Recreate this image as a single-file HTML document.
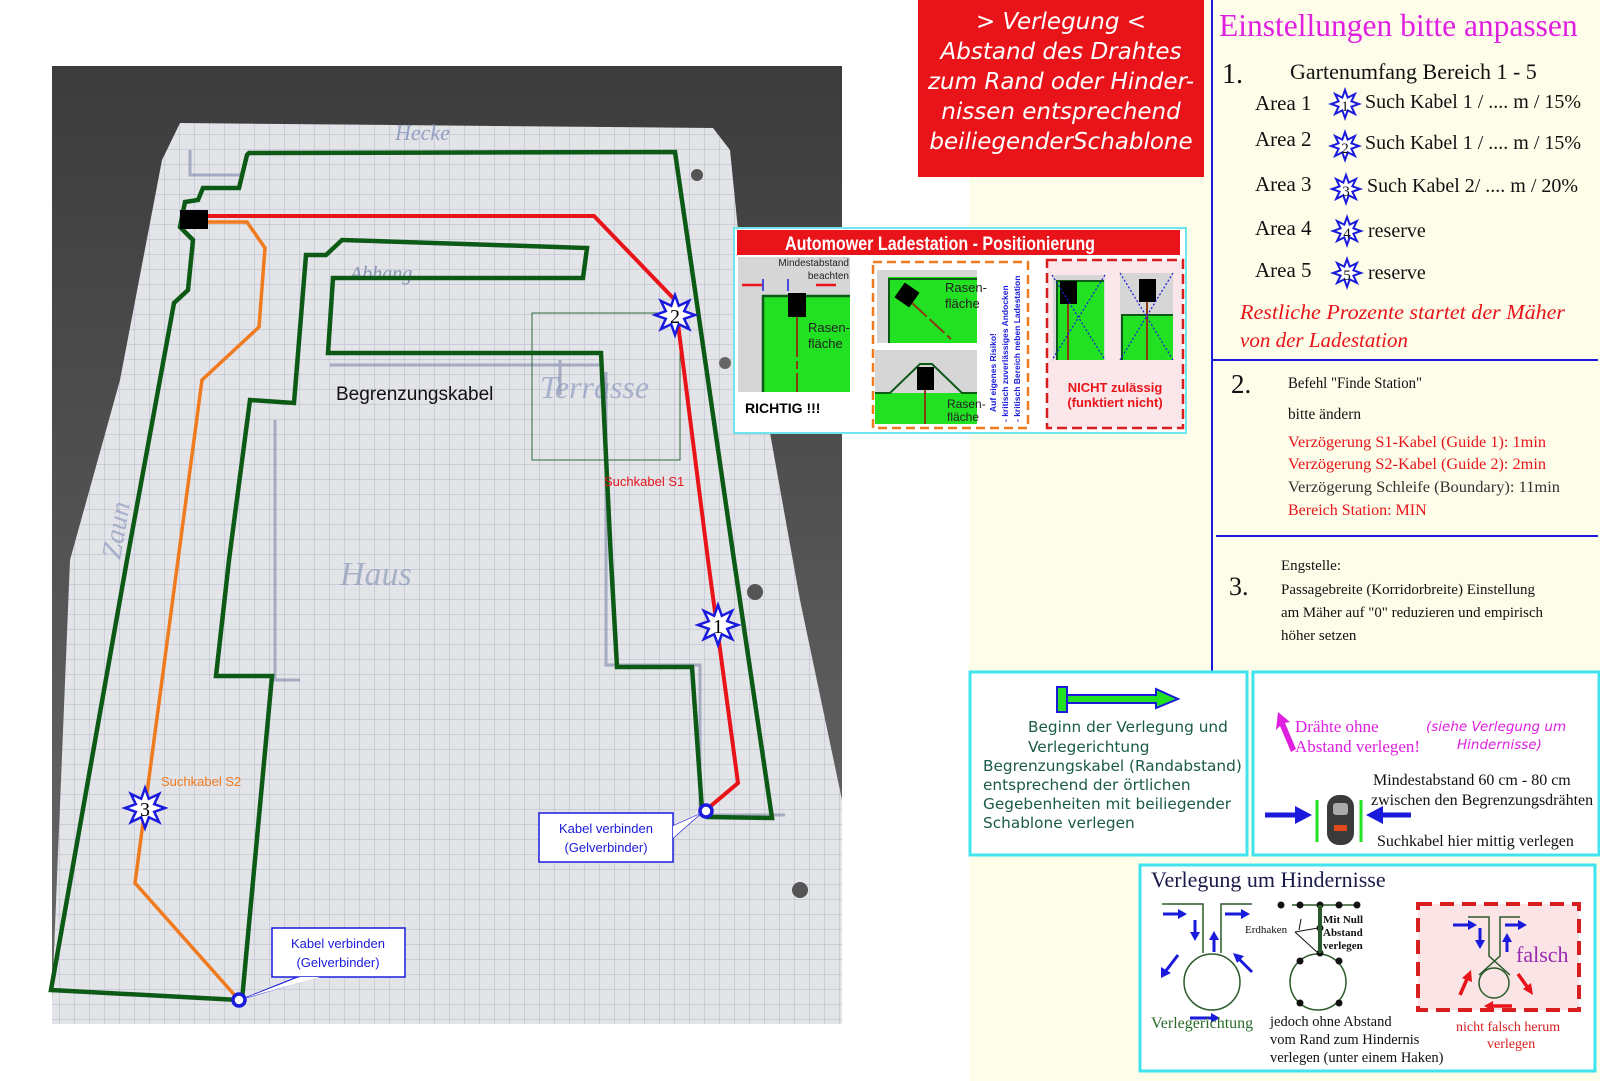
<!DOCTYPE html>
<html><head><meta charset="utf-8"><style>
html,body{margin:0;padding:0;background:#fff;width:1600px;height:1081px;overflow:hidden}
svg{display:block}
.sr{font-family:"Liberation Serif",serif}
.ss{font-family:"DejaVu Sans","Liberation Sans",sans-serif}
.ls{font-family:"Liberation Sans",sans-serif}
</style></head><body>
<svg width="1600" height="1081" viewBox="0 0 1600 1081" xmlns="http://www.w3.org/2000/svg">
<defs>
<pattern id="grid" width="15" height="15" patternUnits="userSpaceOnUse">
<rect width="15" height="15" fill="#e3e4e8"/>
<path d="M15 0V15M0 15H15" stroke="#b3b8c8" stroke-width="1"/>
</pattern>
<linearGradient id="ph" x1="0" y1="0" x2="0" y2="1"><stop offset="0" stop-color="#3c3c3c"/><stop offset="1" stop-color="#6a6a6a"/></linearGradient>
<polygon id="star" points="0,-20 3.8,-9.2 14.1,-14.1 9.2,-3.8 20,0 9.2,3.8 14.1,14.1 3.8,9.2 0,20 -3.8,9.2 -14.1,14.1 -9.2,3.8 -20,0 -9.2,-3.8 -14.1,-14.1 -3.8,-9.2" fill="#fff" stroke="#1a1adc" stroke-width="2.5"/>
<polygon id="stars" points="0,-14 2.7,-6.4 9.9,-9.9 6.4,-2.7 14,0 6.4,2.7 9.9,9.9 2.7,6.4 0,14 -2.7,6.4 -9.9,9.9 -6.4,2.7 -14,0 -6.4,-2.7 -9.9,-9.9 -2.7,-6.4" fill="#fff" stroke="#1a1adc" stroke-width="2"/>
</defs>

<rect x="969" y="0" width="631" height="1081" fill="#fdfde9"/>

<rect x="52" y="66" width="790" height="958" fill="url(#ph)"/>
<polygon points="180,123 713,128 730,150 745,300 770,433 800,600 842,800 842,1024 52,1024 52,1000 70,560 120,380 162,160" fill="url(#grid)"/>
<circle cx="697" cy="175" r="6" fill="#555"/><circle cx="755" cy="592" r="8" fill="#555"/><circle cx="800" cy="890" r="8" fill="#555"/><circle cx="725" cy="363" r="6" fill="#666"/>
<g stroke="#8a93b0" stroke-width="3" fill="none" opacity="0.7">
<path d="M190,150 L190,175 L240,175"/><path d="M560,360 L560,395 M606,372 L606,665 L700,665 L700,815 L785,815"/>
<path d="M330,365 L600,365"/><path d="M275,420 L275,680 L300,680"/>
</g>
<text x="395" y="140" class="sr" font-size="22" font-style="italic" fill="#8090b8" opacity="0.8">Hecke</text>
<text x="350" y="280" class="sr" font-size="20" font-style="italic" fill="#7080a8" opacity="0.8">Abhang</text>
<text x="340" y="585" class="sr" font-size="34" font-style="italic" fill="#8090b0" opacity="0.6">Haus</text>
<text x="540" y="398" class="sr" font-size="32" font-style="italic" fill="#8090b8" opacity="0.6">Terrasse</text>
<text x="120" y="560" class="sr" font-size="28" font-style="italic" fill="#8090b8" opacity="0.6" transform="rotate(-80 120 560)">Zaun</text>
<rect x="532" y="313" width="148" height="147" fill="none" stroke="#2e6a3a" stroke-width="1"/>

<g fill="none" stroke="#0d5a16" stroke-width="4.5" stroke-linejoin="miter">
<path d="M706,817 L772,818 L734,560 L675,152 L249,153 L247,155 L239,188 L203,188 L198,200 L185,202 L180,227 L193,240 L188,290 L174,303 L127,560 L51,990 L239,1000"/>
<path d="M242,1000 L272,676 L216,676 L229,560 L250,400 L294,403 L306,255 L326,255 L342,240 L587,248 L583,278 L333,278 L328,353 L601,353 L611,560 L617,667 L692,667 L702,810"/>
</g>
<path d="M208,216 L594,216 L675,300 L708,560 L738,783 L706,810" fill="none" stroke="#e8141a" stroke-width="4"/>
<path d="M208,222 L247,222 L265,248 L259,327 L202,380 L178,560 L135,883 L239,1000" fill="none" stroke="#f07a1e" stroke-width="3.5"/>
<rect x="180" y="210" width="28" height="19" fill="#000"/>

<use href="#star" x="675" y="315"/><text x="675" y="323" text-anchor="middle" class="sr" font-size="20">2</text>
<use href="#star" x="718" y="625"/><text x="718" y="633" text-anchor="middle" class="sr" font-size="20">1</text>
<use href="#star" x="145" y="808"/><text x="145" y="816" text-anchor="middle" class="sr" font-size="20">3</text>

<text x="336" y="400" class="ls" font-size="19" fill="#111">Begrenzungskabel</text>
<text x="604" y="486" class="ls" font-size="13" fill="#e8141a">Suchkabel S1</text>
<text x="161" y="786" class="ls" font-size="13" fill="#f07a1e">Suchkabel S2</text>

<circle cx="239" cy="1000" r="6" fill="#fff" stroke="#1a1adc" stroke-width="3.5"/>
<circle cx="706" cy="811" r="6" fill="#fff" stroke="#1a1adc" stroke-width="3.5"/>
<polygon points="245,998 300,976 320,976" fill="#fff" stroke="#1a1adc" stroke-width="1.2"/>
<rect x="272" y="928" width="133" height="49" fill="#fff" stroke="#1a1adc" stroke-width="1.5"/>
<polygon points="300,977 320,977 245,998" fill="#fff"/>
<text x="338" y="948" text-anchor="middle" class="ls" font-size="13" fill="#1a1adc">Kabel verbinden</text>
<text x="338" y="967" text-anchor="middle" class="ls" font-size="13" fill="#1a1adc">(Gelverbinder)</text>
<polygon points="700,814 673,826 673,838" fill="#fff" stroke="#1a1adc" stroke-width="1.2"/>
<rect x="539" y="813" width="134" height="49" fill="#fff" stroke="#1a1adc" stroke-width="1.5"/>
<polygon points="673,826 673,838 700,814" fill="#fff"/>
<text x="606" y="833" text-anchor="middle" class="ls" font-size="13" fill="#1a1adc">Kabel verbinden</text>
<text x="606" y="852" text-anchor="middle" class="ls" font-size="13" fill="#1a1adc">(Gelverbinder)</text>

<rect x="734" y="228" width="452" height="205" fill="#fff" stroke="#6ee6ee" stroke-width="2"/>
<rect x="737" y="230" width="443" height="25" fill="#e8141a"/>
<text x="940" y="250" text-anchor="middle" class="ls" font-size="19" font-weight="bold" fill="#fff" textLength="310" lengthAdjust="spacingAndGlyphs">Automower Ladestation - Positionierung</text>
<rect x="738" y="257" width="112" height="135" fill="#d6d6d6"/>
<rect x="762" y="295" width="88" height="97" fill="#22e022"/>
<path d="M763,392 L763,296 L850,296" fill="none" stroke="#0d5a16" stroke-width="2.5"/>
<rect x="788" y="293" width="18" height="24" fill="#000"/>
<path d="M797,317 L797,392" stroke="#8a3a10" stroke-width="2" stroke-dasharray="40 4 8 4"/>
<text x="849" y="266" text-anchor="end" class="ls" font-size="10" fill="#222">Mindestabstand</text>
<text x="849" y="279" text-anchor="end" class="ls" font-size="10" fill="#222">beachten</text>
<path d="M742,285 L762,285 M816,285 L836,285" stroke="#e8141a" stroke-width="2.5"/>
<path d="M763,279 V291 M788,279 V291" stroke="#1a1adc" stroke-width="1.5"/>
<text x="808" y="332" class="ls" font-size="13" fill="#222">Rasen-</text>
<text x="808" y="348" class="ls" font-size="13" fill="#222">fläche</text>
<text x="745" y="413" class="ls" font-size="14" font-weight="bold" fill="#000">RICHTIG !!!</text>

<rect x="873" y="262" width="155" height="166" fill="#fff" stroke="#f07a1e" stroke-width="2.5" stroke-dasharray="9 5"/>
<rect x="877" y="270" width="100" height="73" fill="#d6d6d6"/>
<rect x="888" y="277" width="89" height="66" fill="#22e022"/>
<path d="M889,343 L889,279 L977,279" fill="none" stroke="#0d5a16" stroke-width="2"/>
<rect x="898" y="286" width="18" height="18" fill="#000" transform="rotate(35 907 295)"/>
<path d="M912,303 L951,339" stroke="#8a3a10" stroke-width="2" stroke-dasharray="20 4"/>
<text x="945" y="292" class="ls" font-size="13" fill="#222">Rasen-</text>
<text x="945" y="308" class="ls" font-size="13" fill="#222">fläche</text>
<rect x="875" y="350" width="102" height="43" fill="#d6d6d6"/>
<rect x="875" y="393" width="102" height="31" fill="#22e022"/>
<path d="M875,393 L890,393 L920,364 L932,364 L962,393 L977,393" fill="none" stroke="#0d5a16" stroke-width="2"/>
<rect x="917" y="367" width="17" height="23" fill="#000"/>
<path d="M925,390 L925,424" stroke="#8a3a10" stroke-width="2"/>
<text x="947" y="408" class="ls" font-size="12" fill="#222">Rasen-</text>
<text x="947" y="421" class="ls" font-size="12" fill="#222">fläche</text>
<g class="ls" font-size="8.5" font-weight="bold" fill="#1a1adc">
<text transform="translate(996 412) rotate(-90)">Auf eigenes Risiko!</text>
<text transform="translate(1008 422) rotate(-90)">- kritisch zuverlässiges Andocken</text>
<text transform="translate(1020 422) rotate(-90)">- kritisch Bereich neben Ladestation</text>
</g>
<rect x="1047" y="260" width="136" height="168" fill="#fbe6ea" stroke="#d81e1e" stroke-width="2.5" stroke-dasharray="10 5"/>
<rect x="1053" y="275" width="52" height="85" fill="#d6d6d6"/>
<rect x="1057" y="280" width="47" height="80" fill="#22e022"/>
<path d="M1057,360 V281 H1104" fill="none" stroke="#0d5a16" stroke-width="2"/>
<rect x="1060" y="281" width="17" height="23" fill="#000"/>
<path d="M1068,304 V360" stroke="#8a3a10" stroke-width="2"/>
<path d="M1052,275 L1105,360 M1105,275 L1052,360" stroke="#1a1adc" stroke-width="1.2" stroke-dasharray="2 2"/>
<rect x="1120" y="273" width="53" height="87" fill="#d6d6d6"/>
<rect x="1122" y="314" width="51" height="46" fill="#22e022"/>
<path d="M1122,360 V315 H1173" fill="none" stroke="#0d5a16" stroke-width="2"/>
<rect x="1139" y="279" width="17" height="23" fill="#000"/>
<path d="M1147,302 V360" stroke="#8a3a10" stroke-width="2"/>
<path d="M1120,273 L1173,360 M1173,273 L1120,360" stroke="#1a1adc" stroke-width="1.2" stroke-dasharray="2 2"/>
<g class="ls" font-size="13" font-weight="bold" text-anchor="middle" fill="#e8141a">
<text x="1115" y="392">NICHT zulässig</text>
<text x="1115" y="407">(funktiert nicht)</text>
</g>

<rect x="918" y="0" width="286" height="177" fill="#e8141a"/>
<g class="ss" font-size="23" font-style="italic" fill="#fff" text-anchor="middle">
<text x="1061" y="29">&gt; Verlegung &lt;</text>
<text x="1061" y="59">Abstand des Drahtes</text>
<text x="1061" y="89">zum Rand oder Hinder-</text>
<text x="1061" y="119">nissen entsprechend</text>
<text x="1061" y="149">beiliegenderSchablone</text>
</g>

<line x1="1212" y1="0" x2="1212" y2="673" stroke="#1a1adc" stroke-width="2"/>
<text x="1219" y="36" class="sr" font-size="31.5" fill="#e020e0">Einstellungen bitte anpassen</text>
<text x="1222" y="83" class="sr" font-size="28" fill="#111">1.</text>
<text x="1290" y="79" class="sr" font-size="22" fill="#111">Gartenumfang Bereich 1 - 5</text>
<g class="sr" font-size="21" fill="#111">
<text x="1255" y="110">Area 1</text><text x="1255" y="146">Area 2</text><text x="1255" y="191">Area 3</text><text x="1255" y="235">Area 4</text><text x="1255" y="277">Area 5</text>
</g>
<g class="sr" font-size="20" fill="#111">
<use href="#stars" x="1345" y="104"/><text x="1345" y="111" text-anchor="middle" font-size="15">1</text><text x="1365" y="108">Such Kabel 1 / .... m / 15%</text>
<use href="#stars" x="1345" y="146"/><text x="1345" y="153" text-anchor="middle" font-size="15">2</text><text x="1365" y="149">Such Kabel 1 / .... m / 15%</text>
<use href="#stars" x="1346" y="189"/><text x="1346" y="196" text-anchor="middle" font-size="15">3</text><text x="1367" y="192">Such Kabel 2/ .... m / 20%</text>
<use href="#stars" x="1347" y="231"/><text x="1347" y="238" text-anchor="middle" font-size="15">4</text><text x="1368" y="237">reserve</text>
<use href="#stars" x="1347" y="273"/><text x="1347" y="280" text-anchor="middle" font-size="15">5</text><text x="1368" y="279">reserve</text>
</g>
<text x="1240" y="319" class="sr" font-size="21" font-style="italic" fill="#e8141a" textLength="325" lengthAdjust="spacingAndGlyphs">Restliche Prozente  startet der Mäher</text>
<text x="1240" y="347" class="sr" font-size="21" font-style="italic" fill="#e8141a">von der Ladestation</text>
<line x1="1212" y1="360" x2="1598" y2="360" stroke="#1a1adc" stroke-width="2"/>
<text x="1231" y="393" class="sr" font-size="27" fill="#111">2.</text>
<g class="sr" font-size="16">
<text x="1288" y="388" fill="#111" textLength="134" lengthAdjust="spacingAndGlyphs">Befehl "Finde Station"</text>
<text x="1288" y="419" fill="#111" textLength="73" lengthAdjust="spacingAndGlyphs">bitte ändern</text>
<text x="1288" y="447" fill="#e8141a" textLength="258" lengthAdjust="spacingAndGlyphs">Verzögerung S1-Kabel (Guide 1): 1min</text>
<text x="1288" y="469" fill="#e8141a" textLength="258" lengthAdjust="spacingAndGlyphs">Verzögerung S2-Kabel (Guide 2): 2min</text>
<text x="1288" y="492" fill="#333" textLength="272" lengthAdjust="spacingAndGlyphs">Verzögerung Schleife (Boundary): 11min</text>
<text x="1288" y="515" fill="#e8141a">Bereich Station: MIN</text>
</g>
<line x1="1216" y1="536" x2="1598" y2="536" stroke="#1a1adc" stroke-width="2"/>
<text x="1229" y="595" class="sr" font-size="26" fill="#111">3.</text>
<g class="sr" font-size="15" fill="#111">
<text x="1281" y="570">Engstelle:</text>
<text x="1281" y="594" textLength="254" lengthAdjust="spacingAndGlyphs">Passagebreite (Korridorbreite) Einstellung</text>
<text x="1281" y="617" textLength="262" lengthAdjust="spacingAndGlyphs">am Mäher auf "0" reduzieren und empirisch</text>
<text x="1281" y="640">höher setzen</text>
</g>

<rect x="970" y="672" width="277" height="183" fill="#fff" stroke="#40e4ee" stroke-width="3"/>
<rect x="1057" y="687" width="10" height="25" fill="#22e022" stroke="#1a1adc" stroke-width="2"/>
<path d="M1067,695 H1156 V689 L1178,699 L1156,708 V703 H1067 Z" fill="#22e022" stroke="#1a1adc" stroke-width="2"/>
<g class="ss" font-size="15.3" fill="#1a5a48">
<text x="1028" y="732">Beginn der Verlegung und</text>
<text x="1028" y="752">Verlegerichtung</text>
<text x="983" y="771">Begrenzungskabel (Randabstand)</text>
<text x="983" y="790">entsprechend der örtlichen</text>
<text x="983" y="809">Gegebenheiten mit beiliegender</text>
<text x="983" y="828">Schablone verlegen</text>
</g>

<rect x="1253" y="672" width="346" height="183" fill="#fff" stroke="#40e4ee" stroke-width="3"/>
<path d="M1291,752 L1280,726 L1276,730 L1278,712 L1290,722 L1285,723 L1296,749 Z" fill="#e020e0"/>
<text x="1295" y="732" class="sr" font-size="17" fill="#e020e0">Drähte ohne</text>
<text x="1295" y="752" class="sr" font-size="17" fill="#e020e0">Abstand verlegen!</text>
<text x="1426" y="731" class="ss" font-size="13.5" font-style="italic" fill="#e020e0">(siehe Verlegung um</text>
<text x="1457" y="749" class="ss" font-size="13.5" font-style="italic" fill="#e020e0">Hindernisse)</text>
<text x="1373" y="785" class="sr" font-size="16" fill="#111">Mindestabstand 60 cm - 80 cm</text>
<text x="1371" y="805" class="sr" font-size="16" fill="#111">zwischen den Begrenzungsdrähten</text>
<text x="1377" y="846" class="sr" font-size="16" fill="#111">Suchkabel hier mittig verlegen</text>
<path d="M1265,815 H1298 M1411,815 H1380" stroke="#1a1adc" stroke-width="5"/>
<polygon points="1312,815 1295,806 1295,824" fill="#1a1adc"/>
<polygon points="1366,815 1383,806 1383,824" fill="#1a1adc"/>
<path d="M1317,800 V842 M1361,800 V842" stroke="#22e022" stroke-width="3"/>
<rect x="1327" y="795" width="27" height="50" rx="12" fill="#3a3a3a"/>
<rect x="1333" y="803" width="15" height="12" rx="3" fill="#aaa"/>
<rect x="1334" y="825" width="13" height="6" fill="#e04a1a"/>

<rect x="1140" y="865" width="455" height="206" fill="#fff" stroke="#40e4ee" stroke-width="3"/>
<text x="1151" y="887" class="sr" font-size="22" fill="#1a1a4a">Verlegung um Hindernisse</text>
<g fill="none" stroke="#2a5a2a" stroke-width="1.5">
<path d="M1162,904 H1203 V953 M1221,953 V904 H1252"/>
<circle cx="1212" cy="982" r="28"/>
<circle cx="1318" cy="982" r="28"/>
<path d="M1292,905 H1360"/>
</g>
<g fill="#1a1adc" stroke="#1a1adc" stroke-width="3">
<path d="M1163,914 H1180" /><polygon points="1187,914 1178,909 1178,919" stroke="none"/>
<path d="M1225,914 H1243"/><polygon points="1250,914 1241,909 1241,919" stroke="none"/>
<path d="M1195,920 V934"/><polygon points="1195,941 1190,932 1200,932" stroke="none"/>
<path d="M1214,952 V938"/><polygon points="1214,931 1209,940 1219,940" stroke="none"/>
<path d="M1178,955 L1165,972"/><polygon points="1161,978 1161,967 1171,973" stroke="none"/>
<path d="M1252,972 L1238,958"/><polygon points="1233,953 1244,956 1237,963" stroke="none"/>
<path d="M1190,1018 H1211"/><polygon points="1220,1018 1211,1013 1211,1023" stroke="none"/>
</g>
<g fill="#111">
<circle cx="1281" cy="905" r="3.5"/><circle cx="1300" cy="905" r="3.5"/><circle cx="1320" cy="905" r="3.5"/><circle cx="1339" cy="905" r="3.5"/><circle cx="1357" cy="905" r="3.5"/>
<circle cx="1320" cy="928" r="3.5"/><circle cx="1320" cy="953" r="3.5"/>
<circle cx="1300" cy="961" r="3.5"/><circle cx="1339" cy="961" r="3.5"/><circle cx="1300" cy="1003" r="3.5"/><circle cx="1339" cy="1003" r="3.5"/>
</g>
<path d="M1320,905 V953" stroke="#2a5a2a" stroke-width="4"/>
<path d="M1301,919 L1299,930 M1295,932 L1318,928 M1295,932 L1318,953" stroke="#111" stroke-width="1" fill="none"/>
<text x="1245" y="933" class="sr" font-size="11" fill="#111">Erdhaken</text>
<g class="sr" font-size="11" font-weight="bold" fill="#111">
<text x="1323" y="923">Mit Null</text><text x="1323" y="936">Abstand</text><text x="1323" y="949">verlegen</text>
</g>
<text x="1151" y="1028" class="sr" font-size="16" fill="#2a6a2a">Verlegerichtung</text>
<g class="sr" font-size="14.5" fill="#111">
<text x="1270" y="1026">jedoch ohne Abstand</text>
<text x="1270" y="1044">vom Rand zum Hindernis</text>
<text x="1270" y="1062">verlegen (unter einem Haken)</text>
</g>
<rect x="1418" y="904" width="161" height="106" fill="#fbe4e6" stroke="#d81e1e" stroke-width="4" stroke-dasharray="14 8"/>
<g fill="none" stroke="#2a5a2a" stroke-width="1.5">
<path d="M1468,917 H1489 V956 L1510,975 M1520,917 H1500 V956 L1479,975"/>
<circle cx="1494" cy="983" r="15"/>
</g>
<g fill="#1a1adc" stroke="#1a1adc" stroke-width="3">
<path d="M1453,925 H1470"/><polygon points="1477,925 1468,920 1468,930" stroke="none"/>
<path d="M1505,925 H1520"/><polygon points="1527,925 1518,920 1518,930" stroke="none"/>
<path d="M1480,928 V942"/><polygon points="1480,949 1475,940 1485,940" stroke="none"/>
<path d="M1507,952 V940"/><polygon points="1507,933 1502,942 1512,942" stroke="none"/>
</g>
<g fill="#e8141a" stroke="#e8141a" stroke-width="3.5">
<path d="M1460,995 L1467,979"/><polygon points="1471,970 1462,978 1472,982" stroke="none"/>
<path d="M1518,974 L1528,988"/><polygon points="1533,995 1523,989 1531,983" stroke="none"/>
<path d="M1512,1006 H1492"/><polygon points="1484,1006 1493,1001 1493,1011" stroke="none"/>
</g>
<text x="1516" y="962" class="sr" font-size="22" fill="#9a2ab0">falsch</text>
<text x="1456" y="1031" class="sr" font-size="14" fill="#d81e1e">nicht falsch herum</text>
<text x="1487" y="1048" class="sr" font-size="14" fill="#d81e1e">verlegen</text>
</svg>
</body></html>
